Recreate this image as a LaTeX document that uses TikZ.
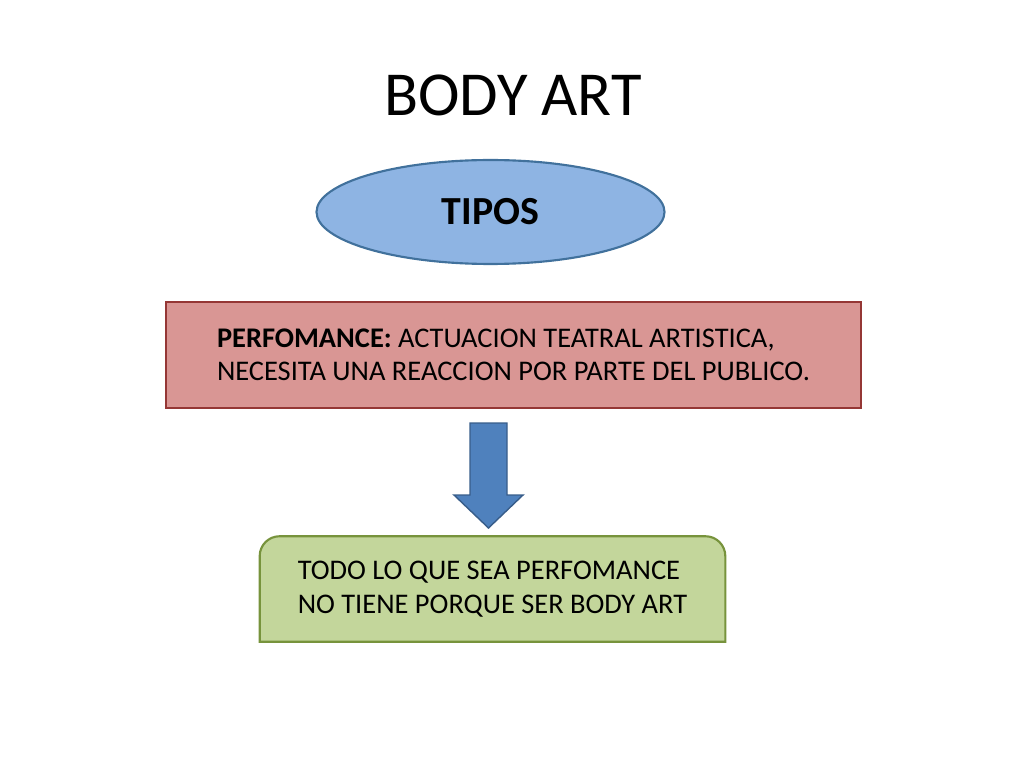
\documentclass[tikz,border=0pt]{standalone}
\usepackage{fontspec}
\setmainfont{Carlito}
\usetikzlibrary{shapes.geometric,backgrounds}
\definecolor{tiposfill}{HTML}{8EB4E3}
\definecolor{tiposline}{HTML}{41719C}
\definecolor{perffill}{HTML}{D99694}
\definecolor{perfline}{HTML}{953735}
\definecolor{todofill}{HTML}{C3D69B}
\definecolor{todoline}{HTML}{77933C}
\definecolor{flechafill}{HTML}{4F81BD}
\definecolor{flechaline}{HTML}{385D8A}
\begin{document}
\begin{tikzpicture}[x=0.703125pt, y=-0.703125pt,
  box/.style={line width=1.5pt, inner sep=0pt},
  txt/.style={font=\fontsize{20}{23.5}\selectfont}]
\useasboundingbox (0,0) rectangle (1024,768);
\node (title) at (513,95) {\fontsize{44}{52.8}\selectfont BODY ART};
\node (tipos) [ellipse, box, draw=tiposline, fill=tiposfill, minimum width=244.7pt, minimum height=73.1pt, font=\fontsize{28}{33.6}\selectfont\bfseries] at (490.5,212) {TIPOS};
\node (perfomance) [rectangle, box, draw=perfline, fill=perffill, minimum width=488.7pt, minimum height=74.5pt, align=left, txt] at (513.5,355) {\textbf{PERFOMANCE:} ACTUACION TEATRAL ARTISTICA,\\NECESITA UNA REACCION POR PARTE DEL PUBLICO.};
\node (todo) [rectangle, inner sep=0pt, minimum width=327pt, minimum height=73.8pt, align=left, txt] at (492.5,589) {TODO LO QUE SEA PERFOMANCE\\NO TIENE PORQUE SER BODY ART};
\begin{scope}[on background layer]
\filldraw[box, draw=todoline, fill=todofill] (todo.south west) [rounded corners=14pt] -- (todo.north west) -- (todo.north east) [sharp corners] -- (todo.south east) -- cycle;
\end{scope}
% flecha
\filldraw[draw=flechaline, fill=flechafill, line width=1pt] (470,423) -- (507,423) -- (507,495) -- (523,495) -- (488.5,528) -- (454,495) -- (470,495) -- cycle;
\end{tikzpicture}
\end{document}
